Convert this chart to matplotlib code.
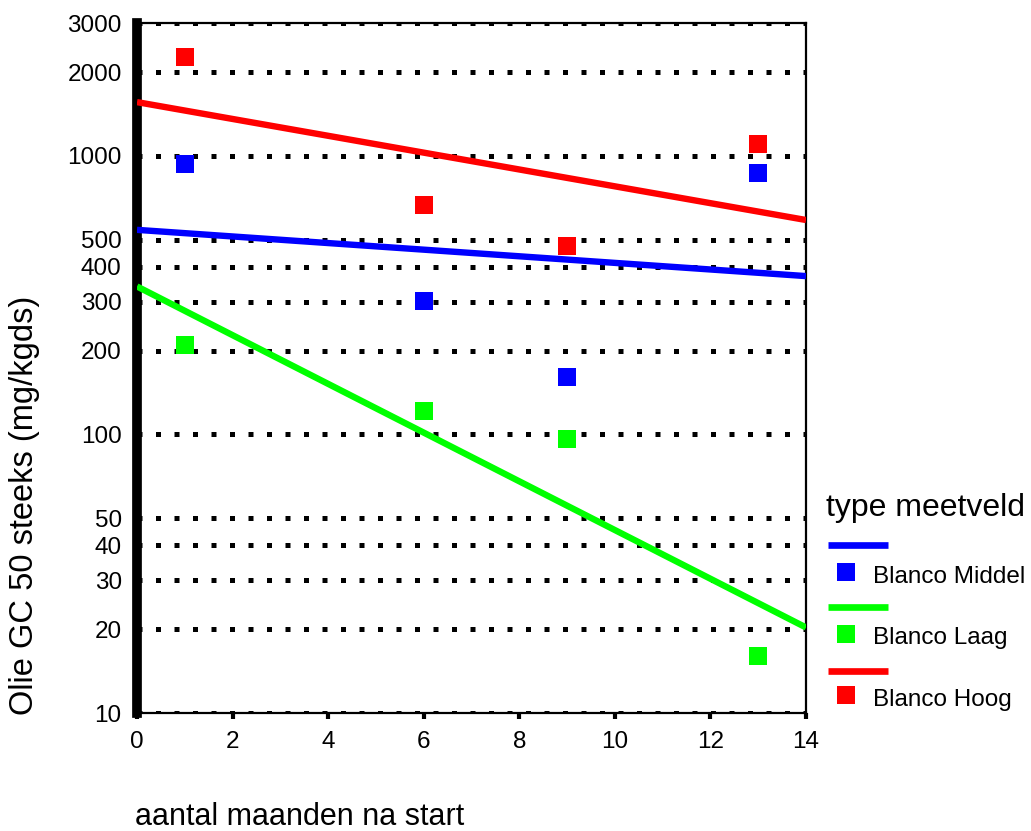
import numpy as np
import matplotlib
matplotlib.use("Agg")
import matplotlib.pyplot as plt
from matplotlib.ticker import FixedLocator, NullLocator, FixedFormatter
from matplotlib.lines import Line2D

plt.rcParams['font.family'] = ['Liberation Sans', 'DejaVu Sans']

# data
months = [1, 6, 9, 13]
series_names = ["Blanco Middel", "Blanco Laag", "Blanco Hoog"]
series_colors = ["#0000ff", "#00ff00", "#ff0000"]
middel = [935, 301, 161, 867]
laag = [209, 121, 96, 16]
hoog = [2260, 666, 475, 1100]
series_values = [middel, laag, hoog]
fit_x = [0, 14]
y_ticks = [10, 20, 30, 40, 50, 100, 200, 300, 400, 500, 1000, 2000, 3000]
y_tick_labels = [str(v) for v in y_ticks]
x_ticks = [0, 2, 4, 6, 8, 10, 12, 14]

W, H = 1031, 831
fig = plt.figure(figsize=(W/100, H/100), dpi=100)
ax = fig.add_axes([137/W, 1-713/H, (806-137)/W, (713-23)/H])
ax.set_yscale('log')
ax.set_xlim(0, 14)
ax.set_ylim(10, 3000)

# dotted grid
for v in y_ticks:
    ax.axhline(v, color='black', lw=3.6, linestyle=(0, (1, 2.7)), zorder=1)

for name, col, vals in zip(series_names, series_colors, series_values):
    slope, icpt = np.polyfit(months, np.log10(vals), 1)
    fx = np.array(fit_x, dtype=float)
    fy = 10 ** (icpt + slope * fx)
    ax.plot(fx, fy, color=col, lw=4.6, zorder=3, solid_capstyle='butt')
    ax.plot(months, vals, linestyle='none', marker='s', markersize=13,
            color=col, markeredgewidth=0, zorder=4)

ax.yaxis.set_major_locator(FixedLocator(y_ticks))
ax.yaxis.set_major_formatter(FixedFormatter(y_tick_labels))
ax.yaxis.set_minor_locator(NullLocator())
ax.set_xticks(x_ticks)
ax.tick_params(axis='y', length=0, pad=11, labelsize=17.5)
ax.tick_params(axis='x', length=4, width=3, direction='out', pad=9, labelsize=17.5)

ax.spines['left'].set_linewidth(7)
for s in ['right', 'top', 'bottom']:
    ax.spines[s].set_linewidth(1.6)

fig.text(25/W, 1-505/H, "Olie GC 50 steeks (mg/kgds)", rotation=90,
         fontsize=23.5, ha='center', va='center')
fig.text(135/W, 1-817/H, "aantal maanden na start", fontsize=22,
         ha='left', va='center')

# legend (drawn manually to match layout)
fig.text(826/W, 1-508/H, "type meetveld", fontsize=23, ha='left', va='center')
line_rows = [545, 607, 671]
marker_rows = [572, 634, 695]
text_rows = [577, 638, 700]
for name, col, ly, my, ty in zip(series_names, series_colors, line_rows, marker_rows, text_rows):
    fig.add_artist(Line2D([828/W, 888/W], [1-ly/H, 1-ly/H], color=col, lw=4.8,
                          transform=fig.transFigure, solid_capstyle='butt'))
    fig.add_artist(Line2D([846/W], [1-my/H], color=col, marker='s', markersize=13,
                          markeredgewidth=0, linestyle='none', transform=fig.transFigure))
    fig.text(873/W, 1-ty/H, name, fontsize=17.5, ha='left', va='center')

fig.savefig("out.png", dpi=100)
